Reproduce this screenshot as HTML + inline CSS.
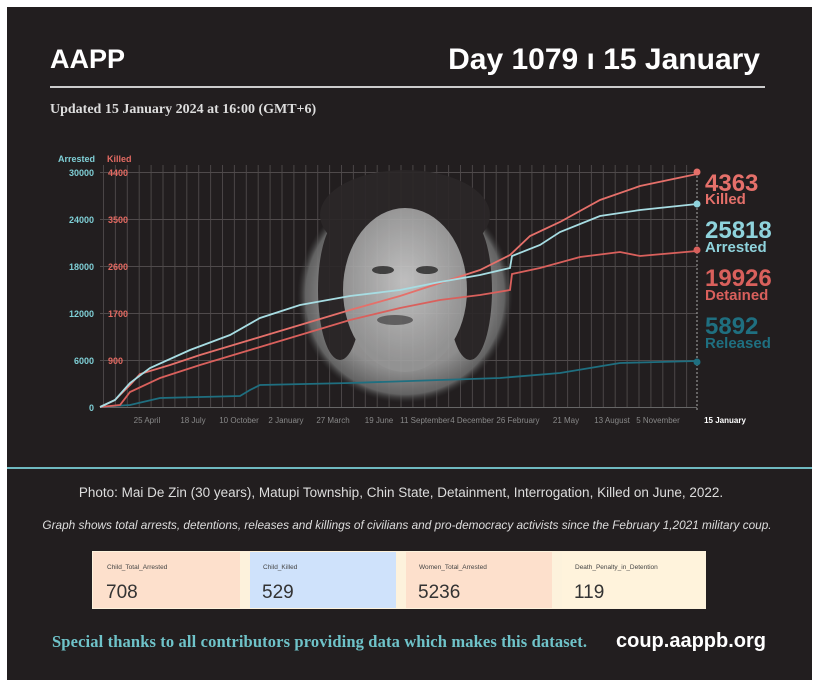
<!DOCTYPE html>
<html><head><meta charset="utf-8"><style>
body{margin:0;background:#fff;width:820px;height:687px;overflow:hidden;font-family:"Liberation Sans",sans-serif}
#p{position:absolute;left:7px;top:7px;width:805px;height:673px;background:#221e1f}
</style></head><body>
<div id="p"></div>
<svg width="820" height="687" style="position:absolute;left:0;top:0">
<defs>
<pattern id="vg" x="103" y="0" width="11.9" height="687" patternUnits="userSpaceOnUse"><rect x="0" y="0" width="1" height="687" fill="#4a4546"/></pattern>
<radialGradient id="face" cx="50%" cy="50%" r="50%"><stop offset="0" stop-color="#b5b5b5"/><stop offset="0.7" stop-color="#9a9a9a"/><stop offset="0.92" stop-color="#6a6a6a"/><stop offset="1" stop-color="#333" stop-opacity="0"/></radialGradient>
<radialGradient id="skin" cx="50%" cy="45%" r="50%"><stop offset="0" stop-color="#d0d0d0"/><stop offset="1" stop-color="#9f9f9f"/></radialGradient>
</defs>
<text x="50" y="68" fill="#fff" font-size="27" font-weight="bold">AAPP</text>
<text x="760" y="69" fill="#fff" font-size="30" font-weight="bold" text-anchor="end">Day 1079 ı 15 January</text>
<rect x="50" y="86" width="715" height="2" fill="#ccc"/>
<text x="50" y="113" fill="#ddd" font-size="14" font-weight="bold" font-family="Liberation Serif">Updated 15 January 2024 at 16:00 (GMT+6)</text>
<rect x="103" y="165" width="594" height="242" fill="url(#vg)"/>
<g fill="#4f4a4b"><rect x="100" y="172" width="597" height="1"/><rect x="100" y="219" width="597" height="1"/><rect x="100" y="266" width="597" height="1"/><rect x="100" y="313" width="597" height="1"/><rect x="100" y="360" width="597" height="1"/><rect x="100" y="407" width="597" height="1" fill="#666"/></g>
<!-- photo -->
<g opacity="0.9">
<circle cx="405" cy="295" r="108" fill="url(#face)"/>
<ellipse cx="405" cy="215" rx="85" ry="45" fill="#2b2728"/>
<ellipse cx="340" cy="290" rx="22" ry="70" fill="#2b2728"/>
<ellipse cx="470" cy="290" rx="22" ry="70" fill="#2b2728"/>
<ellipse cx="405" cy="290" rx="62" ry="82" fill="url(#skin)"/>
<ellipse cx="383" cy="270" rx="11" ry="4" fill="#444"/><ellipse cx="427" cy="270" rx="11" ry="4" fill="#444"/>
<ellipse cx="395" cy="320" rx="18" ry="5" fill="#666"/>
</g>
<line x1="697" y1="172" x2="697" y2="410" stroke="#aaa" stroke-dasharray="2,2"/>
<g font-size="9" font-weight="bold">
<text x="58" y="162" fill="#7fcfd6">Arrested</text><text x="107" y="162" fill="#e36a62">Killed</text>
<g fill="#7fcfd6" text-anchor="end"><text x="94" y="176">30000</text><text x="94" y="223">24000</text><text x="94" y="270">18000</text><text x="94" y="317">12000</text><text x="94" y="364">6000</text><text x="94" y="411">0</text></g>
<g fill="#e36a62"><text x="108" y="176">4400</text><text x="108" y="223">3500</text><text x="108" y="270">2600</text><text x="108" y="317">1700</text><text x="108" y="364">900</text></g>
</g>
<g font-size="8" fill="#888" text-anchor="middle">
<text x="147" y="423">25 April</text><text x="193" y="423">18 July</text><text x="239" y="423">10 October</text><text x="286" y="423">2 January</text><text x="333" y="423">27 March</text><text x="379" y="423">19 June</text><text x="425" y="423">11 September</text><text x="472" y="423">4 December</text><text x="518" y="423">26 February</text><text x="566" y="423">21 May</text><text x="612" y="423">13 August</text><text x="658" y="423">5 November</text>
<text x="725" y="423" fill="#fff" font-weight="bold">15 January</text></g>
<g fill="none" stroke-width="1.8">
<polyline stroke="#1f6f80" points="100,407 130,405 160,398 200,397 240,396 250,390 260,385 350,383 440,380 500,378 560,373 620,363 697,361"/>
<polyline stroke="#d9605c" points="100,407 120,405 130,392 160,378 200,365 250,350 300,335 350,320 400,308 440,300 480,295 510,290 512,274 540,268 580,257 620,252 640,256 697,251"/>
<polyline stroke="#e5706a" points="100,407 115,400 130,385 140,374 170,365 200,355 250,340 300,325 350,310 400,296 440,283 480,270 510,255 530,236 560,222 600,200 640,186 697,174"/>
<polyline stroke="#a7dde3" points="100,407 115,400 130,383 150,368 190,350 230,335 260,318 300,305 350,296 400,290 440,282 480,275 510,268 512,256 540,245 560,232 600,216 640,210 697,204"/>
</g>
<circle cx="697" cy="172" r="3.5" fill="#e5706a"/><circle cx="697" cy="204" r="3.5" fill="#8fd3dc"/><circle cx="697" cy="250" r="3.5" fill="#d9605c"/><circle cx="697" cy="362" r="3.5" fill="#1f6f80"/>
<g font-weight="bold">
<text x="705" y="191" fill="#e5706a" font-size="24">4363</text><text x="705" y="204" fill="#e5706a" font-size="15">Killed</text>
<text x="705" y="238" fill="#8fd3dc" font-size="24">25818</text><text x="705" y="252" fill="#8fd3dc" font-size="15">Arrested</text>
<text x="705" y="286" fill="#d9605c" font-size="24">19926</text><text x="705" y="300" fill="#d9605c" font-size="15">Detained</text>
<text x="705" y="334" fill="#1f6f80" font-size="24">5892</text><text x="705" y="348" fill="#1f6f80" font-size="15">Released</text>
</g>
<rect x="7" y="467" width="805" height="2" fill="#6fb9c0"/>
<text x="401" y="497" fill="#ddd" font-size="13.5" text-anchor="middle">Photo: Mai De Zin (30 years), Matupi Township, Chin State, Detainment, Interrogation, Killed on June, 2022.</text>
<text x="407" y="529" fill="#ddd" font-size="11.8" font-style="italic" text-anchor="middle">Graph shows total arrests, detentions, releases and killings of civilians and pro-democracy activists since the February 1,2021 military coup.</text>
<rect x="92" y="551" width="614" height="58" fill="#fdf2dc"/>
<rect x="93" y="552" width="147" height="56" fill="#fde0cc"/>
<rect x="250" y="552" width="146" height="56" fill="#cfe2fb"/>
<rect x="406" y="552" width="146" height="56" fill="#fde0cc"/>
<rect x="562" y="552" width="143" height="56" fill="#fff3dc"/>
<g fill="#444" font-size="6.5"><text x="107" y="569">Child_Total_Arrested</text><text x="263" y="569">Child_Killed</text><text x="419" y="569">Women_Total_Arrested</text><text x="575" y="569">Death_Penalty_in_Detention</text></g>
<g fill="#333" font-size="19"><text x="106" y="598">708</text><text x="262" y="598">529</text><text x="418" y="598">5236</text><text x="574" y="598">119</text></g>
<text x="52" y="647" fill="#6fc3c9" font-size="16.5" font-weight="bold" font-family="Liberation Serif" textLength="535">Special thanks to all contributors providing data which makes this dataset.</text>
<text x="766" y="647" fill="#fff" font-size="20" font-weight="bold" text-anchor="end">coup.aappb.org</text>
</svg>
</body></html>
